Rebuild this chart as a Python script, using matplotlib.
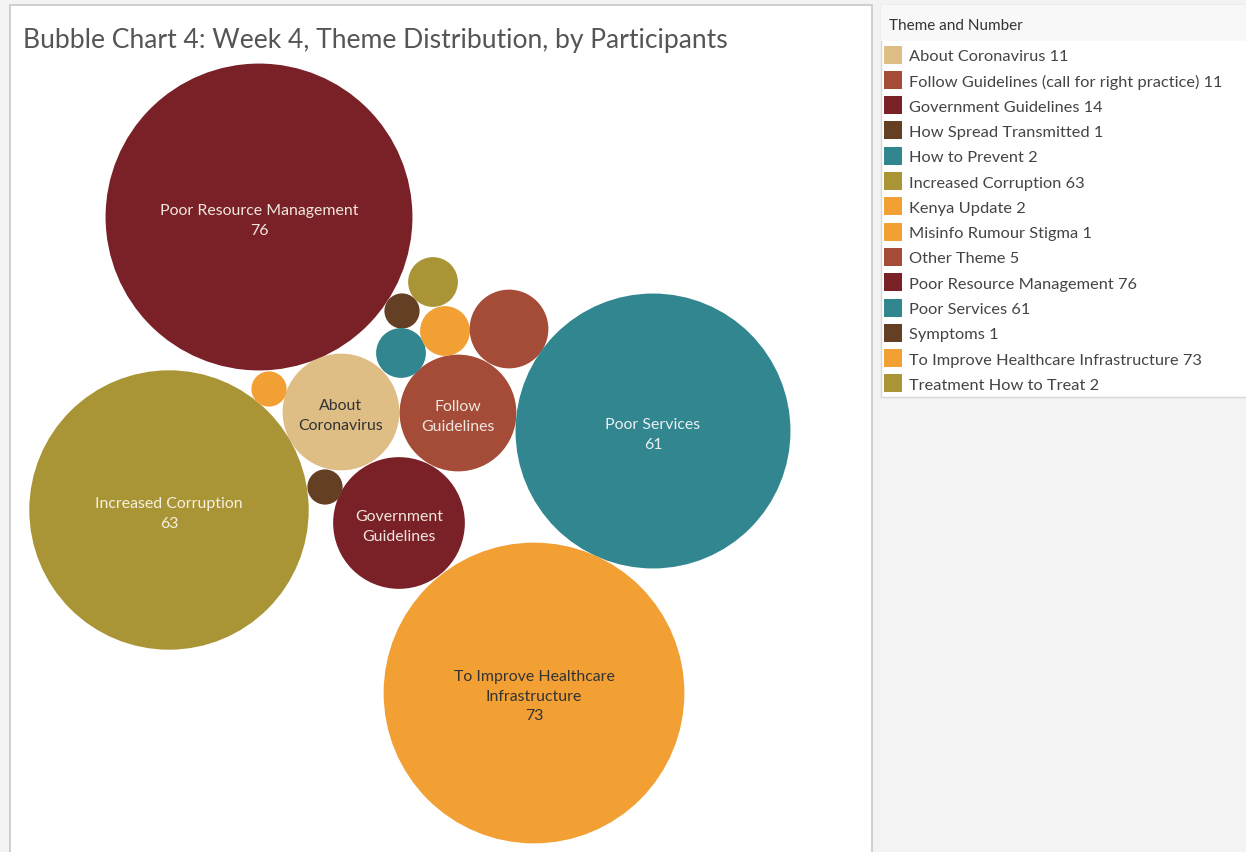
import matplotlib
matplotlib.use("Agg")
import matplotlib.pyplot as plt
from matplotlib.patches import Circle, Rectangle
import numpy as np

plt.rcParams['font.family'] = ['Lato', 'DejaVu Sans']

# ---------------- data ----------------
themes = ["About Coronavirus", "Follow Guidelines (call for right practice)",
          "Government Guidelines", "How Spread Transmitted", "How to Prevent",
          "Increased Corruption", "Kenya Update", "Misinfo Rumour Stigma",
          "Other Theme", "Poor Resource Management", "Poor Services",
          "Symptoms", "To Improve Healthcare Infrastructure", "Treatment How to Treat"]
counts = [11, 11, 14, 1, 2, 63, 2, 1, 5, 76, 61, 1, 73, 2]
colors = ["#DFBE86", "#A44C37", "#7A2128", "#653F24", "#328690",
          "#AA9536", "#F29F33", "#F29F33", "#A44C37", "#7A2128", "#328690",
          "#653F24", "#F29F33", "#AA9536"]
bubble_labels = ["About\nCoronavirus", "Follow\nGuidelines", "Government\nGuidelines",
                 "", "", "Increased Corruption\n63", "", "", "",
                 "Poor Resource Management\n76", "Poor Services\n61", "",
                 "To Improve Healthcare\nInfrastructure\n73", ""]
label_colors = ["#333333", "#F0E6E0", "#F0E6E0", "w", "w", "#F5F0E0", "w", "w", "w",
                "#F0E6E0", "#E8F0F2", "w", "#333333", "w"]

# layout (packed-bubble centres, in pixel units of the canvas)
centres = [(341, 413), (458, 414), (399, 524), (402, 312), (401, 354),
           (169, 511), (445, 332), (269, 390), (509, 330), (259, 218),
           (653, 432), (325, 488), (534, 694), (433, 283)]
scale_px = 17.6  # radius per sqrt(count)

W, H = 1246, 853
fig = plt.figure(figsize=(W / 100, H / 100), dpi=100)
fig.patch.set_facecolor("#F3F3F3")
ax = fig.add_axes([0, 0, 1, 1])
ax.set_xlim(0, W)
ax.set_ylim(H, 0)
ax.set_aspect("equal")
ax.axis("off")

# chart panel
ax.add_patch(Rectangle((9.5, 5.5), 862, 860, facecolor="white",
                       edgecolor="#C8C8C8", lw=1.2, zorder=0))
ax.text(23, 40, "Bubble Chart 4: Week 4, Theme Distribution, by Participants",
        fontsize=19.1, color="#555555", va="center", ha="left")

for (cx, cy), v, c, lab, lc in zip(centres, counts, colors, bubble_labels, label_colors):
    r = scale_px * np.sqrt(v)
    ax.add_patch(Circle((cx, cy), r, facecolor=c, edgecolor="none", zorder=2))
    if lab:
        ax.text(cx, cy + 3, lab, ha="center",
                va="center", fontsize=11.4, color=lc, linespacing=1.5, zorder=3)

# legend panel
ax.add_patch(Rectangle((880.5, 5.5), 370, 392, facecolor="white",
                       edgecolor="#D8D8D8", lw=1.0, zorder=0))
ax.add_patch(Rectangle((881, 6), 369, 36, facecolor="#F8F8F8",
                       edgecolor="none", zorder=1))
ax.text(889, 26, "Theme and Number", fontsize=11, color="#333333",
        va="center", ha="left", zorder=2)
for i, (t, v, c) in enumerate(zip(themes, counts, colors)):
    y = 55.5 + i * 25.3
    ax.add_patch(Rectangle((884, y - 9), 18, 18, facecolor=c,
                           edgecolor="none", zorder=2))
    ax.text(909, y + 1.5, f"{t} {v}", fontsize=11.75, color="#444444",
            va="center", ha="left", zorder=2)

fig.savefig("out.png", dpi=100, facecolor=fig.get_facecolor())
